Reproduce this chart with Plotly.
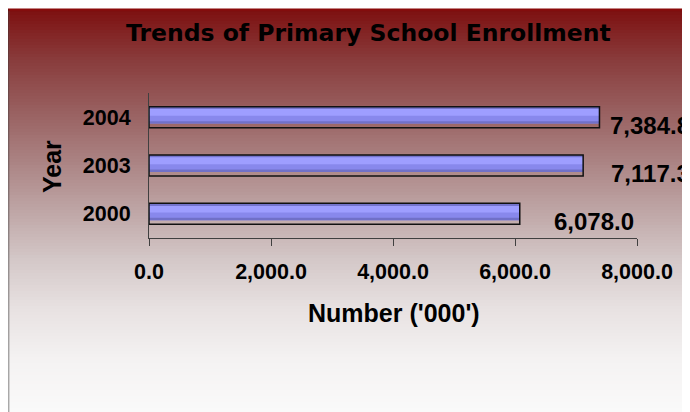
import plotly.graph_objects as go

# ---- data ----
years = ["2000", "2003", "2004"]
enrollment = [6078.0, 7117.3, 7384.8]
x_ticks = [0, 2000, 4000, 6000, 8000]
title_text = "Trends of Primary School Enrollment"
x_title = "Number ('000')"
y_title = "Year"

# ---- geometry (screen pixels; page body has an 8px margin) ----
OFF = 8
W, H = 690 - OFF, 412 - OFF
L, R, T, B = 149, 637, 93, 238  # plot area in screen pixels


def px(xp):
    return (xp - L) / (R - L)


def py(yp):
    return (B - yp) / (B - T)


FONT = "Liberation Sans, Arial, sans-serif"

fig = go.Figure()

# layered bars to imitate the shaded 3D bar face
box_w = 0.435
box_top = box_w / 2
blue_w = 0.35
layers = [
    (blue_w, box_top - blue_w, "#8888ec"),
    (0.14, box_top - 0.05 - 0.14, "#9e9eff"),
    (0.05, box_top - blue_w, "#7070c8"),
    (0.035, box_top - 0.035, "#7474cc"),
]
for w, off, col in layers:
    fig.add_trace(go.Bar(
        x=enrollment, y=years, orientation="h", width=w, offset=off,
        marker=dict(color=col, line=dict(width=0)), hoverinfo="skip",
        showlegend=False))

fig.add_trace(go.Bar(
    x=enrollment, y=years, orientation="h", width=box_w, offset=-box_top,
    marker=dict(color="rgba(0,0,0,0)", line=dict(color="#111111", width=1.5)),
    showlegend=False))

# data labels (category index used as y position)
label_xshift = [32, 26, 9]
for i, (v, xs) in enumerate(zip(enrollment, label_xshift)):
    fig.add_annotation(
        x=v, y=i, xref="x", yref="y", text=f"{v:,.1f}", showarrow=False,
        xanchor="left", yanchor="middle", xshift=xs, yshift=-8,
        font=dict(family=FONT, size=24, color="black", weight="bold"))

# gradient background bands
stops = [
    (9, (125, 15, 15)),
    (60, (137, 60, 60)),
    (110, (152, 95, 95)),
    (160, (170, 130, 130)),
    (210, (190, 165, 165)),
    (260, (212, 200, 200)),
    (310, (232, 226, 226)),
    (360, (244, 242, 242)),
    (412, (250, 250, 250)),
]


def color_at(y):
    for (y0, c0), (y1, c1) in zip(stops[:-1], stops[1:]):
        if y0 <= y <= y1:
            t = (y - y0) / (y1 - y0)
            return "rgb(%d,%d,%d)" % tuple(round(a + (b - a) * t) for a, b in zip(c0, c1))
    return "rgb(250,250,250)"


shapes = []
step = 3
y = 9
while y < 412:
    shapes.append(dict(
        type="rect", xref="paper", yref="paper", layer="below",
        x0=px(8), x1=px(692), y0=py(y), y1=py(y + step + 0.6),
        fillcolor=color_at(y + step / 2), line=dict(width=0)))
    y += step

# frame borders
shapes.append(dict(type="line", xref="paper", yref="paper", layer="below",
                   x0=px(6), x1=px(692), y0=py(9.5), y1=py(9.5),
                   line=dict(color="#8a0a0a", width=2)))
shapes.append(dict(type="line", xref="paper", yref="paper", layer="below",
                   x0=px(7.5), x1=px(7.5), y0=py(9), y1=py(414),
                   line=dict(color="#1a1a1a", width=1.5)))
shapes.append(dict(type="line", xref="paper", yref="paper", layer="below",
                   x0=px(9), x1=px(9), y0=py(11), y1=py(414),
                   line=dict(color="rgba(90,90,90,0.45)", width=1)))

fig.update_layout(shapes=shapes)

# titles as annotations
fig.add_annotation(
    xref="paper", yref="paper", x=px(368.5), y=py(33), text=title_text,
    showarrow=False, xanchor="center", yanchor="middle",
    font=dict(family="DejaVu Sans, sans-serif", size=23.5, color="black", weight="bold"))
fig.add_annotation(
    xref="paper", yref="paper", x=px(394), y=py(313), text=x_title,
    showarrow=False, xanchor="center", yanchor="middle",
    font=dict(family=FONT, size=25, color="black", weight="bold"))
fig.add_annotation(
    xref="paper", yref="paper", x=px(52), y=py(167), text=y_title,
    showarrow=False, xanchor="center", yanchor="middle", textangle=-90,
    font=dict(family=FONT, size=25, color="black", weight="bold"))

fig.update_layout(
    width=W, height=H,
    margin=dict(l=L - OFF, r=W - (R - OFF), t=T - OFF, b=H - (B - OFF), pad=0),
    paper_bgcolor="white", plot_bgcolor="rgba(0,0,0,0)",
    barmode="overlay",
    showlegend=False,
    xaxis=dict(
        range=[0, 8000], tickvals=x_ticks, tickformat=",.1f",
        showgrid=False, zeroline=False,
        showline=True, linecolor="#404040", linewidth=1,
        ticks="outside", ticklen=7, tickcolor="#404040", tickwidth=1,
        ticklabelstandoff=7,
        tickfont=dict(family=FONT, size=21.5, color="black", weight="bold"),
        fixedrange=True),
    yaxis=dict(
        type="category", categoryorder="array", categoryarray=years,
        range=[-0.5, 2.5],
        showgrid=False, zeroline=False,
        showline=True, linecolor="#404040", linewidth=1,
        ticks="", ticklabelstandoff=13,
        tickfont=dict(family=FONT, size=21.5, color="black", weight="bold"),
        fixedrange=True),
)

fig.write_html("out.html")
